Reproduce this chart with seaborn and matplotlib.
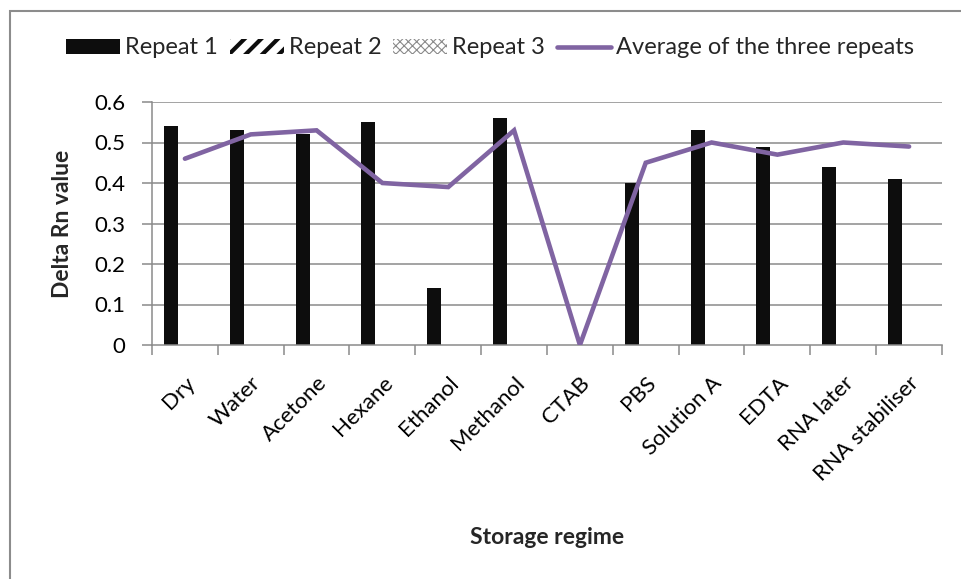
import numpy as np
import pandas as pd
import matplotlib
matplotlib.use("Agg")
import matplotlib.pyplot as plt
from matplotlib.patches import Patch, Rectangle
from matplotlib.lines import Line2D
import seaborn as sns

categories = ["Dry", "Water", "Acetone", "Hexane", "Ethanol", "Methanol", "CTAB",
              "PBS", "Solution A", "EDTA", "RNA later", "RNA stabiliser"]
repeat1 = [0.54, 0.53, 0.52, 0.55, 0.14, 0.56, 0.0, 0.40, 0.53, 0.49, 0.44, 0.41]
repeat2 = [0.0] * 12
repeat3 = [0.0] * 12
average = [0.46, 0.52, 0.53, 0.40, 0.39, 0.53, 0.0, 0.45, 0.50, 0.47, 0.50, 0.49]
series_names = ["Repeat 1", "Repeat 2", "Repeat 3"]
line_name = "Average of the three repeats"
yticks = [0, 0.1, 0.2, 0.3, 0.4, 0.5, 0.6]
ytick_labels = ["0", "0.1", "0.2", "0.3", "0.4", "0.5", "0.6"]

sns.set_theme(style="white")
plt.rcParams["font.family"] = ["Lato", "DejaVu Sans"]
plt.rcParams["hatch.linewidth"] = 1.0


def set_hlw(patch, lw):
    if hasattr(patch, "set_hatch_linewidth"):
        patch.set_hatch_linewidth(lw)


df = pd.DataFrame({
    "Storage regime": categories * 3,
    "series": [s for s in series_names for _ in categories],
    "value": repeat1 + repeat2 + repeat3,
})

fig = plt.figure(figsize=(9.61, 5.79), dpi=100)
ax = fig.add_axes([152 / 961, 1 - 345 / 579, 790 / 961, 243 / 579])

sns.barplot(data=df, x="Storage regime", y="value", hue="series", order=categories,
            hue_order=series_names, palette=["#0d0d0d", "white", "white"],
            width=0.64, gap=0, linewidth=0, legend=False, ax=ax, zorder=2)
hatches = [None, "//", "xxxx"]
for cont, h in zip(ax.containers, hatches):
    for p in cont:
        if h:
            p.set_hatch(h)
            p.set_edgecolor("#202020" if h == "//" else "#a0a0a0")
            set_hlw(p, 3.0 if h == "//" else 0.8)

sns.lineplot(x=np.arange(len(categories)), y=average, color="#8064A2", linewidth=3.3,
             ax=ax, zorder=3, solid_capstyle="round", solid_joinstyle="miter")

ax.set_xlim(-0.5, len(categories) - 0.5)
ax.set_ylim(0, 0.6)
ax.set_yticks(yticks)
ax.set_yticklabels(ytick_labels)
ax.set_xticks(np.arange(len(categories)))
ax.set_xticklabels(categories, rotation=45, ha="right", rotation_mode="anchor")
ax.set_xticks(np.arange(len(categories) + 1) - 0.5, minor=True)

grid_col = "#8a8a8a"
for y in yticks[1:]:
    ax.axhline(y, color=grid_col, linewidth=1.1, zorder=0)
for s in ["top", "right"]:
    ax.spines[s].set_visible(False)
for s in ["left", "bottom"]:
    ax.spines[s].set_color(grid_col)
    ax.spines[s].set_linewidth(1.1)

ax.tick_params(axis="y", which="major", direction="out", length=7, width=1.1,
               color=grid_col, left=True, pad=12, labelsize=16, labelcolor="black")
ax.tick_params(axis="x", which="major", length=0, pad=20, labelsize=16, labelcolor="black")
ax.tick_params(axis="x", which="minor", direction="out", length=7, width=1.1,
               color=grid_col, bottom=True)

ax.set_ylabel("Delta Rn value", fontsize=16.5, fontweight="bold", va="center")
ax.yaxis.set_label_coords((62 - 152) / 790, 0.5)
ax.set_xlabel("Storage regime", fontsize=16.5, fontweight="bold", va="center")
ax.xaxis.set_label_coords(0.5, (345 - 537) / 243)

h2 = Patch(facecolor="white", edgecolor="#0d0d0d", hatch="//", linewidth=0, label=series_names[1])
set_hlw(h2, 3.0)
h3 = Patch(facecolor="white", edgecolor="#8a8a8a", hatch="xxxx", linewidth=0, label=series_names[2])
set_hlw(h3, 0.8)
handles = [
    Patch(facecolor="#0d0d0d", edgecolor="none", label=series_names[0]),
    h2,
    h3,
    Line2D([], [], color="#8064A2", linewidth=3.3, label=line_name),
]
leg = fig.legend(handles=handles, loc="center", bbox_to_anchor=(490 / 961, 1 - 48 / 579),
                 ncol=4, frameon=False, fontsize=17, handlelength=2.3, handleheight=0.6,
                 handletextpad=0.2, columnspacing=0.5, borderpad=0)
for lp, lw in zip(leg.get_patches(), [0, 3.0, 0.8]):
    if lw:
        set_hlw(lp, lw)

fig.patches.append(Rectangle((9.5 / 961, -0.5), 2, 0.5 + 1 - 10.5 / 579,
                             transform=fig.transFigure, fill=False,
                             edgecolor="#8c8c8c", linewidth=1.5))

fig.savefig("out.png", dpi=100)
